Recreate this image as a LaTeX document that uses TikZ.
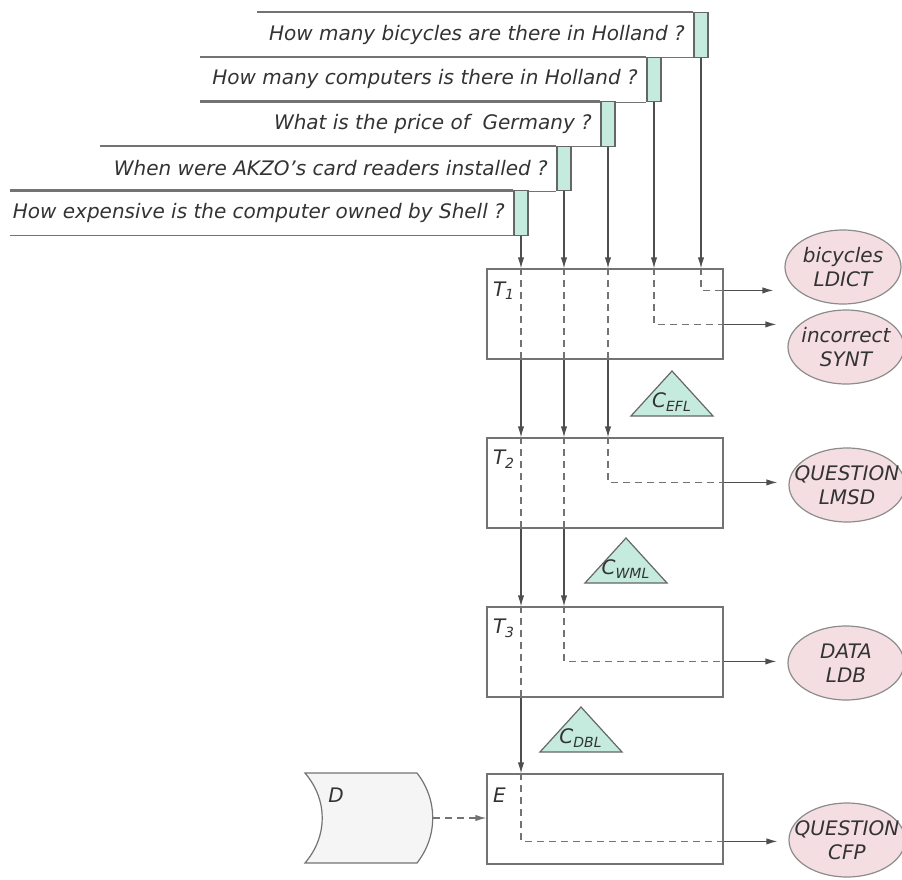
\documentclass[tikz,border=0pt]{standalone}
\usepackage{fontspec}
\setmainfont{DejaVu Sans}
\usetikzlibrary{arrows.meta,shapes.geometric}

\definecolor{cgrey}{RGB}{78,78,78}
\definecolor{cmint}{RGB}{196,235,222}
\definecolor{cpink}{RGB}{245,222,226}
\newcommand{\lsub}[1]{\textsubscript{#1}}
\tikzset{
  qflow/.style={x=0.5pt,y=-0.5pt,font=\fontsize{10}{12}\selectfont\itshape,
    line width=0.6pt,>={Latex[length=5.5pt,width=3.2pt]},text=black!80},
  qtab/.style={draw=black!60,fill=cmint,minimum width=7pt,minimum height=22.25pt,inner sep=0pt},
  qtext/.style={inner sep=0pt},
  qrule/.style={draw=black!55},
  stage/.style={draw=black!55,minimum width=118pt,minimum height=45pt,inner sep=0pt},
  slabel/.style={anchor=west,inner sep=0pt},
  store/.style={ellipse,draw=black!45,fill=cpink,minimum width=58pt,minimum height=37pt,inner sep=0pt},
  storetext/.style={align=center,inner sep=0pt},
  cond/.style={draw=black!60,fill=cmint},
  qarrow/.style={cgrey},
  qdash/.style={black!55,dash pattern=on 3.5pt off 2.5pt},
}

\begin{document}
\begin{tikzpicture}[qflow]
  \useasboundingbox (0,0) rectangle (902,880);
  % question cards: tab x, tab top, left end of top rule, left end of bottom rule
  \foreach \i/\x/\y/\l/\m/\q in {
      1/701/12/257/200/{How many bicycles are there in Holland ?},
      2/654/56.5/200/200/{How many computers is there in Holland ?},
      3/608/101/200/100/{What is the price of \ Germany ?},
      4/564/145.5/100/10/{When were AKZO's card readers installed ?},
      5/521/190/10/10/{How expensive is the computer owned by Shell ?}} {
    \node[qtab,anchor=north] (q\i) at (\x,\y) {};
    \node[qtext,anchor=east] (t\i) at ([xshift=-4pt]q\i.west) {\q};
    \draw[qrule] (\l,\y) -- (q\i.north west);
    \draw[qrule] (q\i.south west -| \m,0) -- (q\i.south west);
  }

  % stages
  \node[stage] (T1) at (605,314) {};
  \node[stage] (T2) at (605,483) {};
  \node[stage] (T3) at (605,652) {};
  \node[stage] (E)  at (605,819) {};
  \foreach \s/\n in {T1/{T\lsub{1}},T2/{T\lsub{2}},T3/{T\lsub{3}},E/E}
    \node[slabel] (\s l) at ([shift={(3pt,-11pt)}]\s.north west) {\n};

  % stores
  \node[store,label={[storetext]center:bicycles\\LDICT}]   (dict) at (843,267) {};
  \node[store,label={[storetext]center:incorrect\\SYNT}]   (synt) at (846,347) {};
  \node[store,label={[storetext]center:QUESTION\\LMSD}]    (lmsd) at (847,485) {};
  \node[store,label={[storetext]center:DATA\\LDB}]         (ldb)  at (846,663) {};
  \node[store,label={[storetext]center:QUESTION\\CFP}]     (cfp)  at (847,840) {};

  % conditions between stages
  \foreach \n/\x/\y/\c in {cefl/672/416/EFL,cwml/626/583/WML,cdbl/581/752/DBL} {
    \filldraw[cond] (\x,\y) ++(-41,0) -- ++(82,0) -- ++(-41,-45) -- cycle;
    \node (\n) at (\x,{\y-14}) {C\lsub{\c}};
  }

  % data file D
  \filldraw[draw=black!55,fill=black!4] (305,773) -- (417,773)
    .. controls (438,800) and (438,836) .. (417,863) -- (305,863)
    .. controls (328,836) and (328,800) .. (305,773) -- cycle;
  \node (dl) at (336,795) {D};
  \coordinate (dout) at (433,818);
  \draw[qdash,->] (dout) -- (dout -| E.west);

  % questions into the first stage
  \foreach \i in {1,...,5}
    \draw[qarrow,->] (q\i.south) -- (q\i.south |- T1.north);
  % passing a stage
  \foreach \i/\a/\b in {5/T1/T2,5/T2/T3,5/T3/E,4/T1/T2,4/T2/T3,3/T1/T2} {
    \draw[qdash] (q\i.south |- \a.north) -- (q\i.south |- \a.south);
    \draw[qarrow,->] (q\i.south |- \a.south) -- (q\i.south |- \b.north);
  }
  % caught by a stage, answer to the store
  \foreach \i/\s/\h/\t in {1/T1/22/dict,2/T1/56/synt,3/T2/45/lmsd,4/T3/55/ldb,5/E/68/cfp} {
    \draw[qdash] (q\i.south |- \s.north) -- ++(0,\h) coordinate (o\i) -- (o\i -| \s.east);
    \draw[qarrow,->,shorten >=5.5pt] (o\i -| \s.east) -- (o\i -| \t.west);
  }
\end{tikzpicture}
\end{document}
